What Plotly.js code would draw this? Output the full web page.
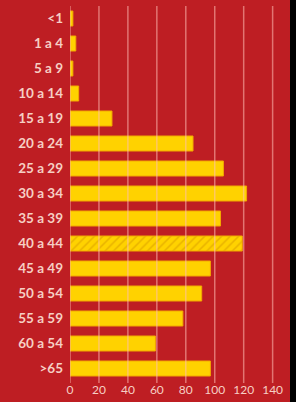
<!DOCTYPE html>
<html><head><meta charset="utf-8">
<script src="https://cdn.plot.ly/plotly-3.0.1.min.js"></script>
<style>html,body{margin:0;padding:0;background:#000;}#c{width:290px;height:402px;}</style>
</head><body><div id="c"></div>
<script>
const categories = ["<1","1 a 4","5 a 9","10 a 14","15 a 19","20 a 24","25 a 29","30 a 34","35 a 39","40 a 44","45 a 49","50 a 54","55 a 59","60 a 54",">65"];
const values = [2,4,2,6,29,85,106,122,104,119,97,91,78,59,97];
const hatched = [false,false,false,false,false,false,false,false,false,true,false,false,false,false,false];
const tickVals = [0,20,40,60,80,100,120,140];

const red = "#BE1E23";
const labelColor = "#F6CFC4";
const gridColor = "rgba(255,190,180,0.55)";

const trace = {
  type: "bar", orientation: "h",
  x: values, y: categories,
  width: 0.6,
  marker: {
    color: "#FFD200",
    line: {color: "#F2A900", width: 1},
    pattern: {
      shape: hatched.map(h => h ? "/" : ""),
      fgcolor: "#E9B300", bgcolor: "#FFD200", size: 6, solidity: 0.25
    }
  },
  hoverinfo: "none"
};

const shapes = tickVals.map(v => ({
  type: "line", xref: "x", yref: "paper", x0: v, x1: v, y0: -0.005, y1: 1,
  layer: "above", line: {color: gridColor, width: 1.5}
}));

const layout = {
  width: 290, height: 402,
  margin: {l: 70, r: 0, t: 6, b: 21},
  paper_bgcolor: red, plot_bgcolor: red,
  showlegend: false,
  shapes: shapes,
  xaxis: {
    range: [0, 152], tickvals: tickVals, showgrid: false, zeroline: false,
    showline: false, ticks: "", fixedrange: true,
    tickfont: {family: "Lato, 'DejaVu Sans', sans-serif", size: 12, color: labelColor}
  },
  yaxis: {
    type: "category", autorange: "reversed", showgrid: false, zeroline: false,
    showline: false, ticks: "", ticklabelstandoff: 6, fixedrange: true,
    tickfont: {family: "Lato, 'DejaVu Sans', sans-serif", size: 13.5, color: labelColor, weight: "bold"}
  }
};

Plotly.newPlot("c", [trace], layout, {displayModeBar: false, staticPlot: true});
</script></body></html>
